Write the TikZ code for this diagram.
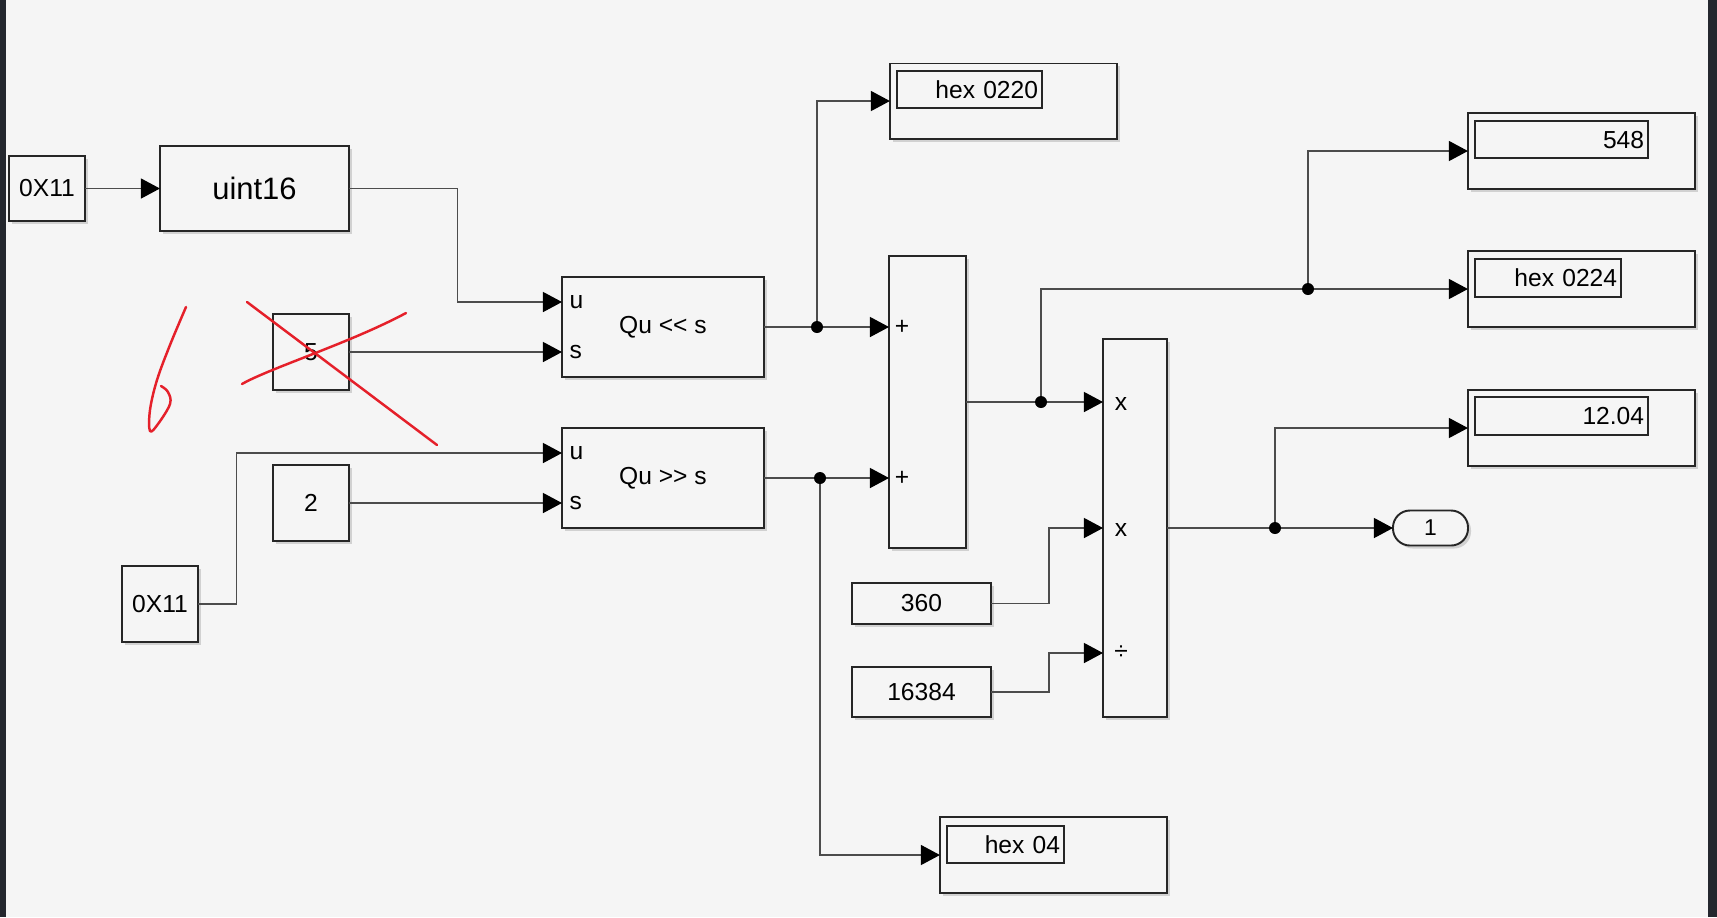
\documentclass[tikz,border=0pt]{standalone}
\usepackage{fontspec}
\setmainfont{Liberation Sans}
\usetikzlibrary{arrows.meta,shadows}
\definecolor{canvas}{HTML}{F5F5F5}
\definecolor{frame}{HTML}{24272E}
\definecolor{pen}{HTML}{E5202A}

\begin{document}
\begin{tikzpicture}[x=0.01cm,y=-0.01cm,
  blk/.style={draw=black!85,line width=0.55pt,fill=canvas,inner sep=0pt,outer sep=0pt,
    font=\fontsize{7}{8}\selectfont,
    drop shadow={shadow xshift=0.3mm,shadow yshift=-0.3mm,opacity=0.3}},
  readout/.style={draw=black!85,line width=0.35pt,inner xsep=0.04cm,inner ysep=0pt,
    outer sep=0pt,align=right,anchor=north west,font=\fontsize{7}{8}\selectfont},
  port/.style={font=\fontsize{7}{8}\selectfont,inner sep=0pt},
  wire/.style={draw=black!70,line width=0.35pt},
  sig/.style={wire,-{Triangle[length=0.19cm,width=0.2cm,color=black,fill=black]}},
  scribble/.style={draw=pen,line width=0.7pt,line cap=round,line join=round}]

\path[use as bounding box] (0,0) rectangle (1717,917);
\fill[canvas] (0,0) rectangle (1717,917);
\fill[frame] (0,0) rectangle (6,917);
\fill[frame] (1708,0) rectangle (1717,917);

% sources
\node[blk,minimum width=0.76cm,minimum height=0.65cm] (hexA) at (47,188.5) {0X11};
\node[blk,minimum width=1.89cm,minimum height=0.85cm,font=\fontsize{8.8}{10}\selectfont] (cast) at (254.5,188.5) {uint16};
\node[blk,minimum size=0.76cm] (five) at (311,352) {5};
\node[blk,minimum size=0.76cm] (two) at (311,503) {2};
\node[blk,minimum size=0.76cm] (hexB) at (160,604) {0X11};
\node[blk,minimum width=1.39cm,minimum height=0.41cm] (kA) at (921.5,603.5) {360};
\node[blk,minimum width=1.39cm,minimum height=0.5cm] (kB) at (921.5,692) {16384};

% shifts, sum, product
\node[blk,minimum width=2.02cm,minimum height=1.0cm] (shl) at (663,327) {Qu <\kern0pt< s};
\node[blk,minimum width=2.02cm,minimum height=1.0cm] (shr) at (663,478) {Qu >\kern0pt> s};
\node[blk,minimum width=0.77cm,minimum height=2.92cm] (sum) at (927.5,402) {};
\node[blk,minimum width=0.64cm,minimum height=3.78cm] (prod) at (1135,528) {};

\coordinate (shlU) at (562,302);
\coordinate (shlS) at (562,352);
\coordinate (shrU) at (562,453);
\coordinate (shrS) at (562,503);
\coordinate (sumA) at (889,327);
\coordinate (sumB) at (889,478);
\coordinate (prodA) at (1103,402);
\coordinate (prodB) at (1103,528);
\coordinate (prodC) at (1103,653);

\node[port,anchor=west] (shlUlab) at ([xshift=0.07cm]shlU) {u};
\node[port,anchor=west] (shlSlab) at ([xshift=0.07cm]shlS) {s};
\node[port,anchor=west] (shrUlab) at ([xshift=0.07cm]shrU) {u};
\node[port,anchor=west] (shrSlab) at ([xshift=0.07cm]shrS) {s};
\node[port] (sumAlab) at ([xshift=0.13cm]sumA) {+};
\node[port] (sumBlab) at ([xshift=0.13cm]sumB) {+};
\node[port] (prodAlab) at ([xshift=0.18cm,yshift=-0.02cm]prodA) {x};
\node[port] (prodBlab) at ([xshift=0.18cm,yshift=-0.02cm]prodB) {x};
\node[port] (prodClab) at ([xshift=0.18cm]prodC) {÷};

% displays
\node[blk,minimum width=2.27cm,minimum height=0.75cm] (dispA) at (1003.5,101) {};
\node[readout,text width=1.37cm,minimum height=0.37cm] (dispAval) at (897,71) {hex 0220};
\node[blk,minimum width=2.27cm,minimum height=0.76cm] (dispB) at (1581.5,151) {};
\node[readout,text width=1.65cm,minimum height=0.37cm] (dispBval) at (1475,121) {548};
\node[blk,minimum width=2.27cm,minimum height=0.76cm] (dispC) at (1581.5,289) {};
\node[readout,text width=1.38cm,minimum height=0.38cm] (dispCval) at (1475,259) {hex 0224};
\node[blk,minimum width=2.27cm,minimum height=0.76cm] (dispE) at (1581.5,428) {};
\node[readout,text width=1.65cm,minimum height=0.38cm] (dispEval) at (1475,397) {12.04};
\node[blk,minimum width=2.27cm,minimum height=0.76cm] (dispD) at (1053.5,855) {};
\node[readout,text width=1.09cm,minimum height=0.37cm] (dispDval) at (947,826) {hex 04};
\node[blk,rounded corners=0.17cm,minimum width=0.75cm,minimum height=0.35cm,font=\fontsize{6.5}{7}\selectfont] (out) at (1430.5,528) {1};

% branch points
\coordinate (jA) at (817,327);
\coordinate (jB) at (820,478);
\coordinate (jC) at (1041,402);
\coordinate (jD) at (1308,289);
\coordinate (jE) at (1275,528);

% signal lines
\draw[sig] (hexA) -- (cast);
\draw[sig] (cast.east) -- ++(108.7,0) |- (shlU);
\draw[sig] (five) -- (shlS);
\draw[sig] (hexB.east) -- ++(38.7,0) |- (shrU);
\draw[sig] (two) -- (shrS);
\draw[wire] (shl.east) -- (jA);
\draw[sig] (jA) -- (sumA);
\draw[sig] (jA) |- (dispA.west);
\draw[wire] (shr.east) -- (jB);
\draw[sig] (jB) -- (sumB);
\draw[sig] (jB) |- (dispD.west);
\draw[wire] (sum.east) -- (jC);
\draw[sig] (jC) -- (prodA);
\draw[wire] (jC) |- (jD);
\draw[sig] (jD) -- (dispC.west);
\draw[sig] (jD) |- (dispB.west);
\draw[sig] (kA.east) -- ++(58,0) |- (prodB);
\draw[sig] (kB.east) -- ++(58,0) |- (prodC);
\draw[wire] (prod.east) -- (jE);
\draw[sig] (jE) -- (out);
\draw[sig] (jE) |- (dispE.west);
\foreach \j in {jA,jB,jC,jD,jE}
  \fill (\j) circle[radius=0.06cm];

% red pen marks
\draw[scribble] (247,302) -- (437,445);
\draw[scribble] (242,384) .. controls (270,368) and (350,343) .. (406,313);
\draw[scribble] plot[smooth,tension=0.6] coordinates {(186,307) (170,345) (157,380) (150,410) (150,431) (158,424) (170,404) (168,392) (161,386)};
\end{tikzpicture}
\end{document}
